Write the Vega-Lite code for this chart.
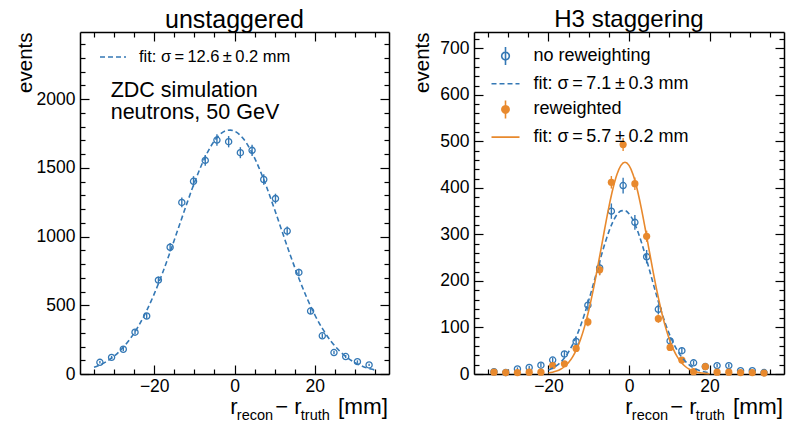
{
  "$schema": "https://vega.github.io/schema/vega-lite/v6.json",
  "background": "white",
  "padding": {"left": 15, "top": 7, "right": 2, "bottom": 0},
  "spacing": 22,
  "config": {
    "font": "Liberation Sans",
    "view": {"stroke": null},
    "axis": {"grid": false, "domainColor": "black", "domainWidth": 1.5, "tickColor": "black", "tickWidth": 1.2, "labelColor": "black", "labelFontSize": 17.5, "labelFont": "Liberation Sans", "titleFont": "Liberation Sans", "titleFontWeight": "normal", "titleColor": "black", "titleFontSize": 20.5, "labelOverlap": false, "labelFlush": false},
    "legend": {"labelFont": "Liberation Sans", "labelColor": "black", "padding": 0},
    "title": {"fontWeight": "normal", "color": "black", "font": "Liberation Sans", "anchor": "middle", "baseline": "alphabetic", "frame": "group"},
    "text": {"font": "Liberation Sans", "color": "black"}
  },
  "datasets": {
    "left_pts": [
      {"x": -33.54, "y": 85, "err": 9.2}, {"x": -30.63, "y": 121, "err": 11}, {"x": -27.71, "y": 180, "err": 13.4}, {"x": -24.79, "y": 304, "err": 17.4},
      {"x": -21.88, "y": 422, "err": 20.5}, {"x": -18.96, "y": 683, "err": 26.1}, {"x": -16.04, "y": 922, "err": 30.4}, {"x": -13.13, "y": 1248, "err": 35.3},
      {"x": -10.21, "y": 1402, "err": 37.4}, {"x": -7.29, "y": 1554, "err": 39.4}, {"x": -4.38, "y": 1702, "err": 41.3}, {"x": -1.46, "y": 1690, "err": 41.1},
      {"x": 1.46, "y": 1610, "err": 40.1}, {"x": 4.38, "y": 1627, "err": 40.3}, {"x": 7.29, "y": 1415, "err": 37.6}, {"x": 10.21, "y": 1276, "err": 35.7},
      {"x": 13.13, "y": 1040, "err": 32.2}, {"x": 16.04, "y": 739, "err": 27.2}, {"x": 18.96, "y": 458, "err": 21.4}, {"x": 21.88, "y": 278, "err": 16.7},
      {"x": 24.79, "y": 156, "err": 12.5}, {"x": 27.71, "y": 127, "err": 11.3}, {"x": 30.63, "y": 90, "err": 9.5}, {"x": 33.54, "y": 66, "err": 8.1}
    ],
    "left_fit": [
      {"x": -35, "y": 49}, {"x": -34, "y": 60}, {"x": -32, "y": 89}, {"x": -30, "y": 130}, {"x": -28, "y": 185}, {"x": -26, "y": 256},
      {"x": -24, "y": 345}, {"x": -22, "y": 454}, {"x": -20, "y": 583}, {"x": -18, "y": 730}, {"x": -16, "y": 891}, {"x": -14, "y": 1060},
      {"x": -12, "y": 1229}, {"x": -10, "y": 1391}, {"x": -8, "y": 1534}, {"x": -6, "y": 1651}, {"x": -4, "y": 1732}, {"x": -2, "y": 1771},
      {"x": -1, "y": 1774}, {"x": 0, "y": 1767}, {"x": 2, "y": 1719}, {"x": 4, "y": 1630}, {"x": 6, "y": 1507}, {"x": 8, "y": 1360},
      {"x": 10, "y": 1196}, {"x": 12, "y": 1025}, {"x": 14, "y": 857}, {"x": 16, "y": 699}, {"x": 18, "y": 556}, {"x": 20, "y": 431},
      {"x": 22, "y": 326}, {"x": 24, "y": 240}, {"x": 26, "y": 173}, {"x": 28, "y": 121}, {"x": 30, "y": 83}, {"x": 32, "y": 55},
      {"x": 34, "y": 36}, {"x": 35, "y": 29}
    ],
    "right_pts": [
      {"series": "no reweighting", "x": -33.54, "y": 5, "err": 2.2}, {"series": "no reweighting", "x": -30.63, "y": 3, "err": 1.7},
      {"series": "no reweighting", "x": -27.71, "y": 11, "err": 3.3}, {"series": "no reweighting", "x": -24.79, "y": 14, "err": 3.7},
      {"series": "no reweighting", "x": -21.88, "y": 19, "err": 4.4}, {"series": "no reweighting", "x": -18.96, "y": 30, "err": 5.5},
      {"series": "no reweighting", "x": -16.04, "y": 43, "err": 6.6}, {"series": "no reweighting", "x": -13.13, "y": 70, "err": 8.4},
      {"series": "no reweighting", "x": -10.21, "y": 148, "err": 12.2}, {"series": "no reweighting", "x": -7.29, "y": 228, "err": 15.1},
      {"series": "no reweighting", "x": -4.38, "y": 350, "err": 16.5}, {"series": "no reweighting", "x": -1.46, "y": 405, "err": 17},
      {"series": "no reweighting", "x": 1.46, "y": 326, "err": 15.8}, {"series": "no reweighting", "x": 4.38, "y": 252, "err": 14.5},
      {"series": "no reweighting", "x": 7.29, "y": 139, "err": 10.5}, {"series": "no reweighting", "x": 10.21, "y": 71, "err": 7.5},
      {"series": "no reweighting", "x": 13.13, "y": 50, "err": 6.5}, {"series": "no reweighting", "x": 16.04, "y": 24, "err": 4.5},
      {"series": "no reweighting", "x": 18.96, "y": 16, "err": 3.7}, {"series": "no reweighting", "x": 21.88, "y": 18, "err": 3.9},
      {"series": "no reweighting", "x": 24.79, "y": 18, "err": 3.9}, {"series": "no reweighting", "x": 27.71, "y": 7, "err": 2.4},
      {"series": "no reweighting", "x": 30.63, "y": 7, "err": 2.4}, {"series": "no reweighting", "x": 33.54, "y": 3, "err": 1.6},
      {"series": "reweighted", "x": -33.54, "y": 4, "err": 1.8}, {"series": "reweighted", "x": -30.63, "y": 3, "err": 1.5},
      {"series": "reweighted", "x": -27.71, "y": 3, "err": 1.5}, {"series": "reweighted", "x": -24.79, "y": 4, "err": 1.8},
      {"series": "reweighted", "x": -21.88, "y": 4, "err": 1.8}, {"series": "reweighted", "x": -18.96, "y": 18, "err": 3.8},
      {"series": "reweighted", "x": -16.04, "y": 22, "err": 4.3}, {"series": "reweighted", "x": -13.13, "y": 55, "err": 6.8},
      {"series": "reweighted", "x": -10.21, "y": 112, "err": 9.5}, {"series": "reweighted", "x": -7.29, "y": 224, "err": 12},
      {"series": "reweighted", "x": -4.38, "y": 412, "err": 13.5}, {"series": "reweighted", "x": -1.46, "y": 493, "err": 14},
      {"series": "reweighted", "x": 1.46, "y": 409, "err": 13.5}, {"series": "reweighted", "x": 4.38, "y": 296, "err": 12},
      {"series": "reweighted", "x": 7.29, "y": 119, "err": 9}, {"series": "reweighted", "x": 10.21, "y": 57, "err": 6.5},
      {"series": "reweighted", "x": 13.13, "y": 30, "err": 4.8}, {"series": "reweighted", "x": 16.04, "y": 5, "err": 2},
      {"series": "reweighted", "x": 18.96, "y": 16, "err": 3.6}, {"series": "reweighted", "x": 21.88, "y": 4, "err": 1.8},
      {"series": "reweighted", "x": 24.79, "y": 4, "err": 1.8}, {"series": "reweighted", "x": 27.71, "y": 3, "err": 1.5},
      {"series": "reweighted", "x": 30.63, "y": 3, "err": 1.5}, {"series": "reweighted", "x": 33.54, "y": 2, "err": 1.3}
    ],
    "right_fit_blue": [
      {"x": -20, "y": 8.4}, {"x": -19, "y": 12.4}, {"x": -18, "y": 17.9}, {"x": -17, "y": 25.3}, {"x": -16, "y": 35.1}, {"x": -15, "y": 47.6},
      {"x": -14, "y": 63.3}, {"x": -13, "y": 82.2}, {"x": -12, "y": 104.4}, {"x": -11, "y": 129.9}, {"x": -10, "y": 158.2}, {"x": -9, "y": 188.5},
      {"x": -8, "y": 219.8}, {"x": -7, "y": 250.8}, {"x": -6, "y": 280}, {"x": -5, "y": 306}, {"x": -4, "y": 327.2}, {"x": -3, "y": 342.4},
      {"x": -2, "y": 350.6}, {"x": -1, "y": 351.4}, {"x": 0, "y": 344.6}, {"x": 1, "y": 330.7}, {"x": 2, "y": 310.6}, {"x": 3, "y": 285.5},
      {"x": 4, "y": 256.8}, {"x": 5, "y": 226.1}, {"x": 6, "y": 194.7}, {"x": 7, "y": 164.1}, {"x": 8, "y": 135.4}, {"x": 9, "y": 109.3},
      {"x": 10, "y": 86.3}, {"x": 11, "y": 66.7}, {"x": 12, "y": 50.5}, {"x": 13, "y": 37.4}, {"x": 14, "y": 27.1}, {"x": 15, "y": 19.2},
      {"x": 16, "y": 13.3}, {"x": 17, "y": 9.1}, {"x": 18, "y": 6}, {"x": 20, "y": 2.5}
    ],
    "right_fit_orange": [
      {"x": -20, "y": 2.1}, {"x": -19, "y": 3.7}, {"x": -18, "y": 6.2}, {"x": -17, "y": 10.1}, {"x": -16, "y": 16.1}, {"x": -15, "y": 24.7},
      {"x": -14, "y": 36.9}, {"x": -13, "y": 53.5}, {"x": -12, "y": 75.4}, {"x": -11, "y": 102.9}, {"x": -10, "y": 136.5}, {"x": -9, "y": 175.8},
      {"x": -8, "y": 219.7}, {"x": -7, "y": 266.4}, {"x": -6, "y": 313.8}, {"x": -5, "y": 358.7}, {"x": -4, "y": 398}, {"x": -3, "y": 428.8},
      {"x": -2, "y": 448.3}, {"x": -1, "y": 455}, {"x": 0, "y": 448.3}, {"x": 1, "y": 428.8}, {"x": 2, "y": 398}, {"x": 3, "y": 358.7},
      {"x": 4, "y": 313.8}, {"x": 5, "y": 266.4}, {"x": 6, "y": 219.7}, {"x": 7, "y": 175.8}, {"x": 8, "y": 136.5}, {"x": 9, "y": 102.9},
      {"x": 10, "y": 75.4}, {"x": 11, "y": 53.5}, {"x": 12, "y": 36.9}, {"x": 13, "y": 24.7}, {"x": 14, "y": 16.1}, {"x": 15, "y": 10.1},
      {"x": 16, "y": 6.2}, {"x": 17, "y": 3.7}, {"x": 18, "y": 2.1}, {"x": 20, "y": 0.6}
    ],
    "legend_left": [{"series": "fit: σ\u2009=\u200912.6\u2009±\u20090.2 mm"}],
    "legend_right": [
      {"series": "no reweighting"}, {"series": "fit: σ\u2009=\u20097.1\u2009±\u20090.3 mm"}, {"series": "reweighted"}, {"series": "fit: σ\u2009=\u20095.7\u2009±\u20090.2 mm"}
    ]
  },
  "hconcat": [
    {
      "width": 309,
      "height": 342,
      "title": {"text": "unstaggered", "fontSize": 25, "offset": -2},
      "resolve": {"axis": {"x": "independent", "y": "independent"}},
      "layer": [
        {
          "data": {"name": "left_pts"},
          "mark": {"type": "errorbar", "color": "#3478b5", "thickness": 1.4},
          "encoding": {
            "x": {"field": "x", "type": "quantitative", "scale": {"domain": [-38.5, 38.5], "nice": false, "zero": false},
              "axis": {"orient": "bottom", "title": null, "values": [-35, -30, -25, -20, -15, -10, -5, 0, 5, 10, 15, 20, 25, 30, 35],
                "labelExpr": "datum.value % 20 === 0 ? (datum.value < 0 ? '−' + (-datum.value) : '' + datum.value) : ''",
                "tickSize": {"condition": {"test": "datum.value % 20 === 0", "value": -9}, "value": -5}, "labelPadding": 12}},
            "y": {"field": "y", "type": "quantitative", "scale": {"domain": [0, 2488], "nice": false},
              "axis": {"orient": "left", "title": "events", "titleAnchor": "end", "titlePadding": 1,
                "values": [0, 100, 200, 300, 400, 500, 600, 700, 800, 900, 1000, 1100, 1200, 1300, 1400, 1500, 1600, 1700, 1800, 1900, 2000, 2100, 2200, 2300, 2400],
                "labelExpr": "datum.value % 500 === 0 ? '' + datum.value : ''",
                "tickSize": {"condition": {"test": "datum.value % 500 === 0", "value": -9}, "value": -5}, "labelPadding": 14}},
            "yError": {"field": "err"}
          }
        },
        {
          "data": {"name": "left_pts"},
          "mark": {"type": "point", "filled": false, "color": "#3478b5", "size": 38, "strokeWidth": 1.3, "opacity": 1},
          "encoding": {
            "x": {"field": "x", "type": "quantitative",
              "axis": {"orient": "top", "title": null, "labels": false, "values": [-35, -30, -25, -20, -15, -10, -5, 0, 5, 10, 15, 20, 25, 30, 35],
                "tickSize": {"condition": {"test": "datum.value % 20 === 0", "value": -9}, "value": -5}}},
            "y": {"field": "y", "type": "quantitative",
              "axis": {"orient": "right", "title": null, "labels": false,
                "values": [0, 100, 200, 300, 400, 500, 600, 700, 800, 900, 1000, 1100, 1200, 1300, 1400, 1500, 1600, 1700, 1800, 1900, 2000, 2100, 2200, 2300, 2400],
                "tickSize": {"condition": {"test": "datum.value % 500 === 0", "value": -9}, "value": -5}}}
          }
        },
        {
          "data": {"name": "left_fit"},
          "mark": {"type": "line", "color": "#3478b5", "strokeDash": [5, 3], "strokeWidth": 1.6, "interpolate": "monotone"},
          "encoding": {
            "x": {"field": "x", "type": "quantitative", "axis": null},
            "y": {"field": "y", "type": "quantitative", "axis": null}
          }
        },
        {
          "data": {"name": "legend_left"},
          "mark": {"type": "point", "opacity": 0},
          "encoding": {
            "x": {"datum": 0, "type": "quantitative", "axis": null},
            "y": {"datum": 1000, "type": "quantitative", "axis": null},
            "color": {"field": "series", "type": "nominal", "scale": {"range": ["#3478b5"]},
              "legend": {"title": null, "orient": "none", "legendX": 22, "legendY": 14, "symbolSize": 400, "labelFontSize": 16.5, "labelOffset": 15,
                "symbolType": "M-1.3,0H1.3", "symbolDash": [5, 3], "symbolStrokeColor": "#3478b5", "symbolFillColor": "transparent", "symbolStrokeWidth": 1.6, "symbolOpacity": 1}}
          }
        },
        {
          "data": {"values": [{}]},
          "mark": {"type": "text", "text": ["ZDC simulation", "neutrons, 50 GeV"], "align": "left", "baseline": "alphabetic", "fontSize": 21.5, "lineHeight": 22},
          "encoding": {"x": {"datum": -30.85, "type": "quantitative", "axis": null}, "y": {"datum": 2015, "type": "quantitative", "axis": null}}
        },
        {
          "data": {"values": [{}]},
          "mark": {"type": "text", "text": "r", "align": "left", "baseline": "alphabetic", "fontSize": 22, "dx": -158.7},
          "encoding": {"x": {"datum": 38.5, "type": "quantitative", "axis": null}, "y": {"datum": -291, "type": "quantitative", "axis": null}}
        },
        {
          "data": {"values": [{}]},
          "mark": {"type": "text", "text": "recon", "align": "left", "baseline": "alphabetic", "fontSize": 14.5, "dx": -152.2},
          "encoding": {"x": {"datum": 38.5, "type": "quantitative", "axis": null}, "y": {"datum": -333, "type": "quantitative", "axis": null}}
        },
        {
          "data": {"values": [{}]},
          "mark": {"type": "text", "text": "− r", "align": "left", "baseline": "alphabetic", "fontSize": 22, "dx": -113.7},
          "encoding": {"x": {"datum": 38.5, "type": "quantitative", "axis": null}, "y": {"datum": -291, "type": "quantitative", "axis": null}}
        },
        {
          "data": {"values": [{}]},
          "mark": {"type": "text", "text": "truth", "align": "left", "baseline": "alphabetic", "fontSize": 14.5, "dx": -88.2},
          "encoding": {"x": {"datum": 38.5, "type": "quantitative", "axis": null}, "y": {"datum": -333, "type": "quantitative", "axis": null}}
        },
        {
          "data": {"values": [{}]},
          "mark": {"type": "text", "text": "[mm]", "align": "left", "baseline": "alphabetic", "fontSize": 22.5, "dx": -51},
          "encoding": {"x": {"datum": 38.5, "type": "quantitative", "axis": null}, "y": {"datum": -291, "type": "quantitative", "axis": null}}
        }
      ]
    },
    {
      "width": 310,
      "height": 342,
      "title": {"text": "H3 staggering", "fontSize": 24, "offset": -2},
      "resolve": {"axis": {"x": "independent", "y": "independent"}},
      "layer": [
        {
          "data": {"name": "right_pts"},
          "transform": [{"filter": "datum.series === 'no reweighting'"}],
          "mark": {"type": "errorbar", "color": "#3478b5", "thickness": 1.4},
          "encoding": {
            "x": {"field": "x", "type": "quantitative", "scale": {"domain": [-38.5, 38.5], "nice": false, "zero": false},
              "axis": {"orient": "bottom", "title": null, "values": [-35, -30, -25, -20, -15, -10, -5, 0, 5, 10, 15, 20, 25, 30, 35],
                "labelExpr": "datum.value % 20 === 0 ? (datum.value < 0 ? '−' + (-datum.value) : '' + datum.value) : ''",
                "tickSize": {"condition": {"test": "datum.value % 20 === 0", "value": -9}, "value": -5}, "labelPadding": 12}},
            "y": {"field": "y", "type": "quantitative", "scale": {"domain": [0, 735], "nice": false},
              "axis": {"orient": "left", "title": "events", "titleAnchor": "end", "titlePadding": 7,
                "values": [0, 20, 40, 60, 80, 100, 120, 140, 160, 180, 200, 220, 240, 260, 280, 300, 320, 340, 360, 380, 400, 420, 440, 460, 480, 500, 520, 540, 560, 580, 600, 620, 640, 660, 680, 700, 720],
                "labelExpr": "datum.value % 100 === 0 ? '' + datum.value : ''",
                "tickSize": {"condition": {"test": "datum.value % 100 === 0", "value": -9}, "value": -5}, "labelPadding": 14}},
            "yError": {"field": "err"}
          }
        },
        {
          "data": {"name": "right_pts"},
          "transform": [{"filter": "datum.series === 'reweighted'"}],
          "mark": {"type": "errorbar", "color": "#e8892d", "thickness": 1.4},
          "encoding": {
            "x": {"field": "x", "type": "quantitative", "axis": null},
            "y": {"field": "y", "type": "quantitative", "axis": null},
            "yError": {"field": "err"}
          }
        },
        {
          "data": {"name": "right_pts"},
          "transform": [{"filter": "datum.series === 'no reweighting'"}],
          "mark": {"type": "point", "filled": false, "color": "#3478b5", "size": 38, "strokeWidth": 1.3, "opacity": 1},
          "encoding": {
            "x": {"field": "x", "type": "quantitative",
              "axis": {"orient": "top", "title": null, "labels": false, "values": [-35, -30, -25, -20, -15, -10, -5, 0, 5, 10, 15, 20, 25, 30, 35],
                "tickSize": {"condition": {"test": "datum.value % 20 === 0", "value": -9}, "value": -5}}},
            "y": {"field": "y", "type": "quantitative",
              "axis": {"orient": "right", "title": null, "labels": false,
                "values": [0, 20, 40, 60, 80, 100, 120, 140, 160, 180, 200, 220, 240, 260, 280, 300, 320, 340, 360, 380, 400, 420, 440, 460, 480, 500, 520, 540, 560, 580, 600, 620, 640, 660, 680, 700, 720],
                "tickSize": {"condition": {"test": "datum.value % 100 === 0", "value": -9}, "value": -5}}}
          }
        },
        {
          "data": {"name": "right_pts"},
          "transform": [{"filter": "datum.series === 'reweighted'"}],
          "mark": {"type": "point", "filled": true, "color": "#e8892d", "size": 52, "opacity": 1},
          "encoding": {
            "x": {"field": "x", "type": "quantitative", "axis": null},
            "y": {"field": "y", "type": "quantitative", "axis": null}
          }
        },
        {
          "data": {"name": "right_fit_blue"},
          "mark": {"type": "line", "color": "#3478b5", "strokeDash": [5, 3], "strokeWidth": 1.6, "interpolate": "monotone"},
          "encoding": {
            "x": {"field": "x", "type": "quantitative", "axis": null},
            "y": {"field": "y", "type": "quantitative", "axis": null}
          }
        },
        {
          "data": {"name": "right_fit_orange"},
          "mark": {"type": "line", "color": "#e8892d", "strokeWidth": 1.6, "interpolate": "monotone"},
          "encoding": {
            "x": {"field": "x", "type": "quantitative", "axis": null},
            "y": {"field": "y", "type": "quantitative", "axis": null}
          }
        },
        {
          "data": {"name": "legend_right"},
          "mark": {"type": "point", "opacity": 0, "filled": false},
          "encoding": {
            "x": {"datum": 0, "type": "quantitative", "axis": null},
            "y": {"datum": 100, "type": "quantitative", "axis": null},
            "color": {"field": "series", "type": "nominal",
              "scale": {"domain": ["no reweighting", "fit: σ\u2009=\u20097.1\u2009±\u20090.3 mm", "reweighted", "fit: σ\u2009=\u20095.7\u2009±\u20090.2 mm"], "range": ["#3478b5", "#3478b5", "#e8892d", "#e8892d"]},
              "legend": {"title": null, "orient": "none", "legendX": 20.5, "legendY": 13, "symbolSize": 400, "labelFontSize": 18, "labelOffset": 17, "rowPadding": 3.7,
                "symbolStrokeWidth": 1.6, "symbolOpacity": 1, "symbolFillColor": "transparent"}},
            "shape": {"field": "series", "type": "nominal",
              "scale": {"domain": ["no reweighting", "fit: σ\u2009=\u20097.1\u2009±\u20090.3 mm", "reweighted", "fit: σ\u2009=\u20095.7\u2009±\u20090.2 mm"],
                "range": [
                  "M0,-0.9V0.9M-0.38,0A0.38,0.38 0 1,0 0.38,0A0.38,0.38 0 1,0 -0.38,0",
                  "M-1.4,0H1.4",
                  "M0,-0.9V0.9M-0.36,0A0.36,0.36 0 1,0 0.36,0A0.36,0.36 0 1,0 -0.36,0M-0.24,0A0.24,0.24 0 1,0 0.24,0A0.24,0.24 0 1,0 -0.24,0M-0.12,0A0.12,0.12 0 1,0 0.12,0A0.12,0.12 0 1,0 -0.12,0",
                  "M-1.4,0H1.4"
                ]},
              "legend": {"title": null, "orient": "none", "legendX": 20.5, "legendY": 13}},
            "strokeDash": {"field": "series", "type": "nominal",
              "scale": {"domain": ["no reweighting", "fit: σ\u2009=\u20097.1\u2009±\u20090.3 mm", "reweighted", "fit: σ\u2009=\u20095.7\u2009±\u20090.2 mm"],
                "range": [[1, 0], [5, 3], [1, 0], [1, 0]]},
              "legend": {"title": null, "orient": "none", "legendX": 20.5, "legendY": 13}}
          }
        },
        {
          "data": {"values": [{}]},
          "mark": {"type": "text", "text": "r", "align": "left", "baseline": "alphabetic", "fontSize": 22, "dx": -158.7},
          "encoding": {"x": {"datum": 38.5, "type": "quantitative", "axis": null}, "y": {"datum": -85.6, "type": "quantitative", "axis": null}}
        },
        {
          "data": {"values": [{}]},
          "mark": {"type": "text", "text": "recon", "align": "left", "baseline": "alphabetic", "fontSize": 14.5, "dx": -152.2},
          "encoding": {"x": {"datum": 38.5, "type": "quantitative", "axis": null}, "y": {"datum": -98, "type": "quantitative", "axis": null}}
        },
        {
          "data": {"values": [{}]},
          "mark": {"type": "text", "text": "− r", "align": "left", "baseline": "alphabetic", "fontSize": 22, "dx": -113.7},
          "encoding": {"x": {"datum": 38.5, "type": "quantitative", "axis": null}, "y": {"datum": -85.6, "type": "quantitative", "axis": null}}
        },
        {
          "data": {"values": [{}]},
          "mark": {"type": "text", "text": "truth", "align": "left", "baseline": "alphabetic", "fontSize": 14.5, "dx": -88.2},
          "encoding": {"x": {"datum": 38.5, "type": "quantitative", "axis": null}, "y": {"datum": -98, "type": "quantitative", "axis": null}}
        },
        {
          "data": {"values": [{}]},
          "mark": {"type": "text", "text": "[mm]", "align": "left", "baseline": "alphabetic", "fontSize": 22.5, "dx": -51},
          "encoding": {"x": {"datum": 38.5, "type": "quantitative", "axis": null}, "y": {"datum": -85.6, "type": "quantitative", "axis": null}}
        }
      ]
    }
  ],
  "resolve": {"scale": {"color": "independent", "shape": "independent", "strokeDash": "independent"}, "legend": {"color": "independent", "shape": "independent", "strokeDash": "independent"}}
}
